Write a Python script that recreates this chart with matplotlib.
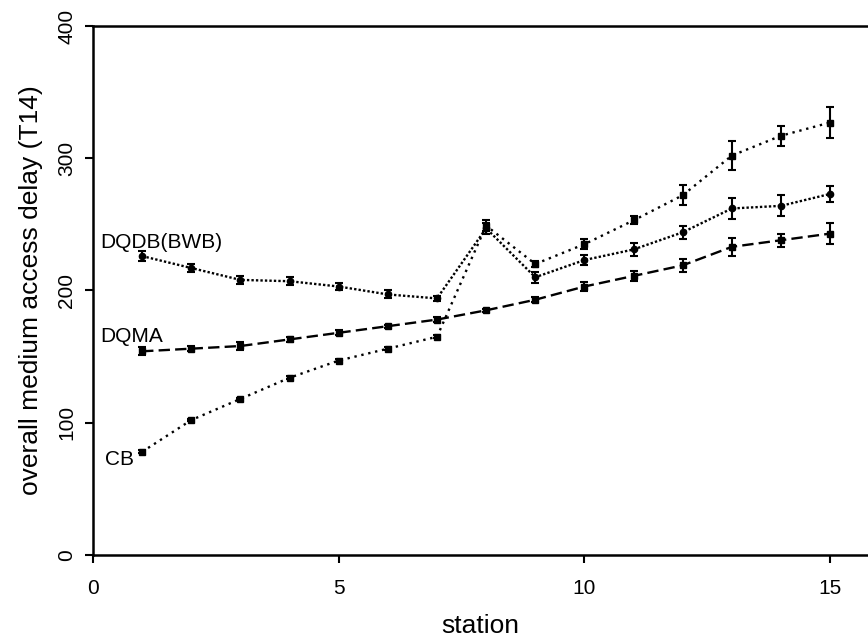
import matplotlib
matplotlib.use("Agg")
import matplotlib.pyplot as plt
import numpy as np

plt.rcParams["font.family"] = ["Liberation Sans", "DejaVu Sans"]

stations = np.arange(1, 16)

dqdb = [226, 217, 208, 207, 203, 197, 194, 247, 210, 223, 231, 244, 262, 264, 273]
dqdb_err = [4, 3, 3, 3, 3, 3, 2, 4, 4, 4, 5, 5, 8, 8, 6]

dqma = [154, 156, 158, 163, 168, 173, 178, 185, 193, 203, 211, 219, 233, 238, 243]
dqma_err = [3, 2, 3, 2, 2, 1, 2, 1, 2, 3.5, 4, 5, 7, 5, 8]

cb = [78, 102, 118, 134, 147, 156, 165, 249, 220, 235, 253, 272, 302, 317, 327]
cb_err = [1, 1, 1, 1, 1, 1, 1, 4, 2, 4, 3, 7.5, 11, 7.5, 12]

labels = ["DQDB(BWB)", "DQMA", "CB"]


def main() -> None:
    fig = plt.figure(figsize=(8.68, 6.43), dpi=100)
    ax = fig.add_axes([0.1071, 0.1369, 0.8929, 0.8227])

    common = dict(color="black", ecolor="black", elinewidth=1.5, capsize=3,
                  capthick=1.5, linewidth=1.7, markersize=4.5)

    ax.errorbar(stations, dqdb, yerr=dqdb_err, marker="o",
                dashes=(1.0, 0.9), **common)
    ax.errorbar(stations, dqma, yerr=dqma_err, marker="s",
                dashes=(4.8, 2.2), **common)
    ax.errorbar(stations, cb, yerr=cb_err, marker="s",
                dashes=(1.0, 2.0), **common)

    # curve labels at the left end of each line
    ax.text(0.15, 236, labels[0], fontsize=15, ha="left", va="center")
    ax.text(0.14, 165, labels[1], fontsize=15, ha="left", va="center")
    ax.text(0.24, 72, labels[2], fontsize=15, ha="left", va="center")

    ax.set_xlim(0, 15.77)
    ax.set_ylim(0, 400)
    ax.set_xticks([0, 5, 10, 15])
    ax.set_yticks([0, 100, 200, 300, 400])
    for lab in ax.get_yticklabels():
        lab.set_rotation(90)
        lab.set_va("center")

    ax.spines["right"].set_visible(False)
    for side in ("left", "bottom", "top"):
        ax.spines[side].set_linewidth(1.8)
    ax.tick_params(direction="out", length=6, width=1.5, labelsize=15)
    ax.tick_params(axis="x", pad=11)
    ax.tick_params(axis="y", pad=6)

    ax.set_xlabel("station", fontsize=19, labelpad=12)
    ax.set_ylabel("overall medium access delay (T14)", fontsize=19, labelpad=10)

    fig.savefig("out.png", dpi=100)
    plt.close(fig)


if __name__ == "__main__":
    main()
